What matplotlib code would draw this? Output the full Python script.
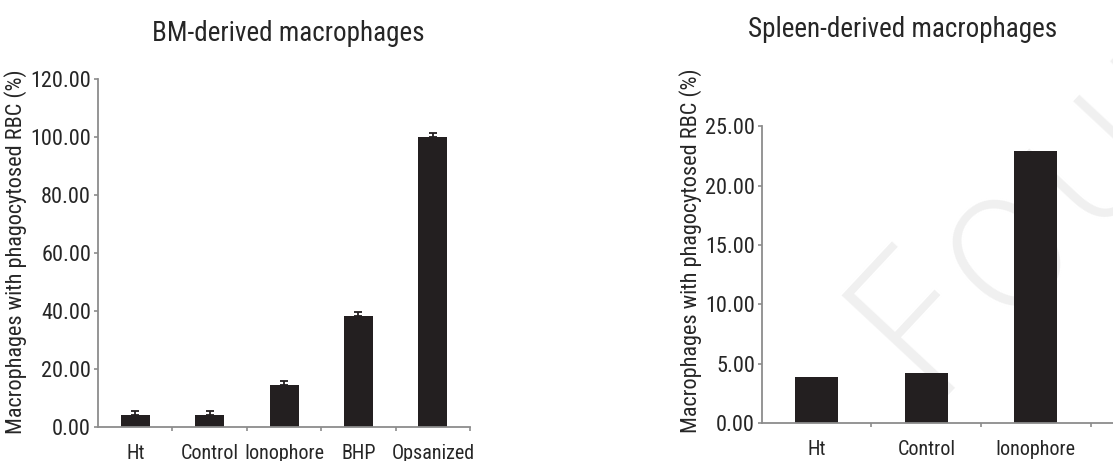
import matplotlib
matplotlib.use("Agg")
import matplotlib.pyplot as plt
import numpy as np

plt.rcParams['font.family'] = ['Roboto Condensed', 'Archivo Narrow', 'DejaVu Sans']

# BM-derived
bm_labels = ['Ht', 'Control', 'Ionophore', 'BHP', 'Opsanized']
bm_values = [4.0, 4.0, 14.6, 38.3, 100.0]
bm_err = [1.5, 1.5, 1.4, 1.5, 1.2]
bm_ticks = [0, 20, 40, 60, 80, 100, 120]

# Spleen-derived (image is cropped at the right edge)
sp_labels = ['Ht', 'Control', 'Ionophore']
sp_values = [3.9, 4.2, 22.9]
sp_ticks = [0, 5, 10, 15, 20, 25]

BAR = '#231f20'
AXC = '#8c8c8c'
TXT = '#262626'

fig = plt.figure(figsize=(11.13, 4.61), dpi=100)

# faint watermark behind everything
fig.text(0.831, 0.143, 'Foundation', fontsize=144, color='#f0f0f0', rotation=47,
         rotation_mode='anchor', ha='left', va='baseline',
         family='DejaVu Sans', fontweight='light', zorder=-5)

ax1 = fig.add_axes([0.0881, 0.0738, 0.3342, 0.755])
ax2 = fig.add_axes([0.6846, 0.0824, 0.3154, 0.644])


def style(ax, labels, ticks, xmax):
    ax.patch.set_alpha(0)
    for s in ['top', 'right']:
        ax.spines[s].set_visible(False)
    for s in ['left', 'bottom']:
        ax.spines[s].set_color(AXC)
        ax.spines[s].set_linewidth(1.3)
    ax.set_xlim(-0.5, xmax)
    ax.set_ylim(0, ticks[-1])
    ax.set_yticks(ticks)
    ax.set_yticklabels([f'{t:.2f}' for t in ticks])
    ax.set_xticks(range(len(labels)))
    ax.set_xticklabels(labels)
    ax.set_xticks(np.arange(0.5, len(labels), 1.0), minor=True)
    ax.tick_params(axis='x', which='major', length=0, pad=12, labelsize=14.5, labelcolor=TXT)
    ax.tick_params(axis='x', which='minor', length=3, color=AXC, width=1.2)
    ax.tick_params(axis='y', length=3, color=AXC, width=1.2, pad=2, labelsize=16, labelcolor=TXT)


ax1.bar(range(len(bm_labels)), bm_values, width=0.39, color=BAR,
        yerr=[[0] * len(bm_err), bm_err], error_kw=dict(ecolor=BAR, elinewidth=1.3, capsize=3, capthick=1.3))
style(ax1, bm_labels, bm_ticks, 4.5)
ax1.set_ylabel('Macrophages with phagocytosed RBC (%)', fontsize=16, color=TXT)
ax1.yaxis.set_label_coords(-0.19, 0.505)
fig.text(0.2588, 0.928, 'BM-derived macrophages', fontsize=19.5, color=TXT, ha='center', va='center')

ax2.bar(range(len(sp_labels)), sp_values, width=0.39, color=BAR)
style(ax2, sp_labels, sp_ticks, 2.705)
ax2.set_ylabel('Macrophages with phagocytosed RBC (%)', fontsize=16, color=TXT)
ax2.yaxis.set_label_coords(-0.171, 0.58)
fig.text(0.811, 0.935, 'Spleen-derived macrophages', fontsize=19.5, color=TXT, ha='center', va='center')

fig.savefig('out.png', dpi=100)
